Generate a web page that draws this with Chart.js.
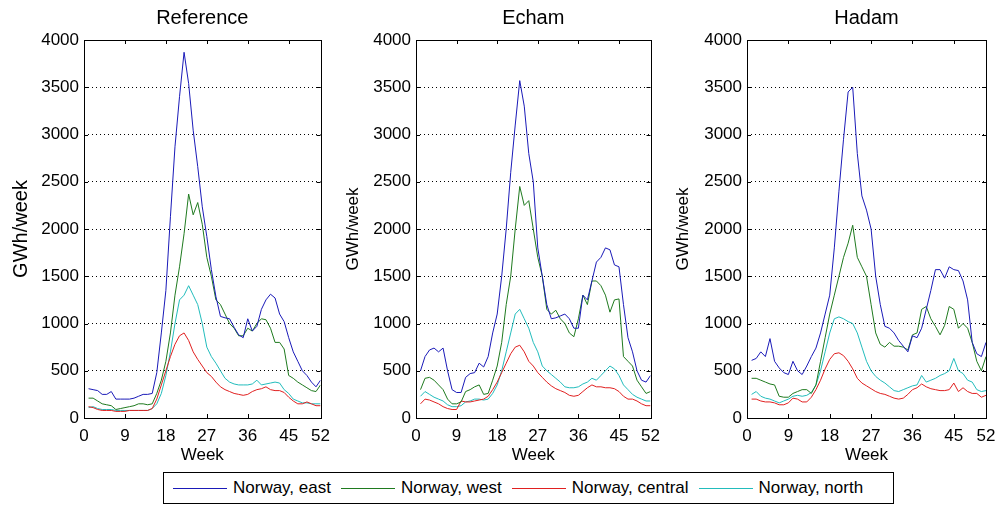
<!DOCTYPE html>
<html>
<head>
<meta charset="utf-8">
<script src="https://cdn.jsdelivr.net/npm/chart.js@4/dist/chart.umd.min.js"></script>
<style>
  body { margin: 0; background: #fff; font-family: 'Liberation Sans', Arial, sans-serif; }
  #wrap { position: relative; width: 997px; height: 506px; overflow: hidden; }
  .panel { position: absolute; top: 0; height: 468px; }
  #legend {
    position: absolute; left: 163px; top: 472px; width: 729px; height: 30px;
    border: 1px solid #000; display: flex; align-items: flex-start; font-size: 17px; color: #000;
  }
  .item { display: flex; align-items: flex-start; margin-left: 10px; margin-top: 5px; height: 20px; line-height: 20px; }
  .item:first-child { margin-left: 9px; }
  .sw { display: block; width: 54px; height: 1px; margin-top: 10px; margin-right: 6px; }
</style>
</head>
<body>
<div id="wrap">
  <div class="panel" style="left:0;width:330px"><canvas id="c1"></canvas></div>
  <div class="panel" style="left:330px;width:330px"><canvas id="c2"></canvas></div>
  <div class="panel" style="left:660px;width:337px"><canvas id="c3"></canvas></div>
  <div id="legend"></div>
</div>
<script>
const weeks = Array.from({ length: 52 }, (_, i) => i + 1);
const xTicks = [0, 9, 18, 27, 36, 45, 52];
const seriesNames = ['Norway, east', 'Norway, west', 'Norway, central', 'Norway, north'];
const seriesColors = ['#1a1ab8', '#1f7a1f', '#e02020', '#22bcbc'];

// Reference
const refEast = [310, 300, 290, 250, 250, 280, 200, 200, 200, 200, 210, 230, 250, 250, 260, 480, 900, 1350, 2130, 2870, 3400, 3870, 3540, 3045, 2660, 2235, 1920, 1570, 1285, 1075, 1060, 1050, 960, 880, 850, 1050, 920, 970, 1150, 1250, 1310, 1270, 1100, 1020, 850, 700, 600, 500, 450, 380, 330, 400];
const refWest = [210, 210, 180, 150, 140, 130, 90, 100, 110, 120, 130, 150, 150, 140, 150, 260, 400, 600, 900, 1300, 1600, 1950, 2370, 2150, 2280, 2050, 1700, 1500, 1250, 1200, 1100, 1000, 950, 870, 870, 950, 920, 1000, 1050, 1040, 950, 800, 800, 730, 450, 420, 380, 350, 320, 290, 280, 350];
const refCentral = [120, 110, 90, 80, 80, 80, 70, 70, 70, 80, 80, 80, 80, 80, 100, 200, 350, 500, 650, 780, 870, 900, 820, 700, 620, 550, 480, 440, 380, 330, 300, 280, 260, 250, 240, 250, 280, 300, 310, 330, 300, 290, 290, 270, 220, 180, 150, 150, 170, 150, 130, 130];
const refNorth = [110, 120, 100, 90, 90, 90, 80, 80, 80, 80, 80, 80, 80, 80, 100, 150, 260, 450, 700, 1000, 1250, 1300, 1400, 1300, 1200, 1000, 750, 650, 580, 500, 420, 380, 360, 350, 350, 350, 360, 400, 350, 360, 370, 380, 370, 300, 260, 200, 180, 160, 160, 150, 150, 150];

// Echam
const echEast = [500, 650, 720, 740, 700, 740, 500, 300, 270, 270, 430, 470, 480, 580, 540, 650, 900, 1100, 1500, 2000, 2600, 3100, 3570, 3300, 2800, 2500, 1800, 1500, 1200, 1050, 1060, 1080, 1100, 1050, 950, 950, 1300, 1250, 1450, 1650, 1700, 1800, 1780, 1620, 1600, 1200, 850, 700, 500, 400, 380, 450];
const echWest = [300, 420, 430, 400, 350, 300, 200, 150, 150, 170, 280, 300, 330, 350, 250, 260, 400, 550, 800, 1200, 1500, 2000, 2450, 2250, 2300, 2000, 1700, 1500, 1150, 1100, 1140, 1050, 1000, 900, 860, 1050, 1300, 1200, 1450, 1450, 1400, 1300, 1120, 1250, 1260, 650, 600, 550, 400, 330, 260, 280];
const echCentral = [150, 200, 190, 170, 150, 120, 100, 90, 90, 180, 170, 170, 180, 190, 200, 230, 300, 380, 480, 580, 680, 750, 770, 700, 600, 550, 480, 430, 380, 340, 310, 290, 270, 240, 230, 240, 280, 320, 350, 330, 330, 320, 320, 310, 280, 230, 200, 200, 180, 150, 130, 130];
const echNorth = [230, 280, 250, 220, 200, 180, 140, 120, 120, 130, 170, 180, 200, 200, 190, 200, 260, 350, 500, 700, 900, 1100, 1150, 1050, 950, 800, 700, 550, 500, 460, 420, 380, 330, 320, 320, 330, 360, 380, 420, 400, 450, 500, 550, 520, 450, 350, 300, 250, 220, 200, 180, 180];

// Hadam
const hadEast = [610, 630, 700, 650, 840, 600, 530, 480, 460, 600, 500, 460, 550, 650, 740, 900, 1100, 1300, 1800, 2400, 2950, 3450, 3500, 2800, 2350, 2200, 2000, 1500, 1200, 970, 950, 900, 820, 760, 700, 870, 850, 950, 1150, 1350, 1570, 1570, 1480, 1600, 1570, 1560, 1450, 1250, 800, 680, 650, 800];
const hadWest = [420, 420, 400, 380, 360, 350, 230, 220, 220, 260, 280, 300, 300, 260, 350, 600, 850, 1100, 1300, 1500, 1700, 1850, 2040, 1700, 1600, 1500, 1200, 900, 780, 750, 800, 760, 760, 750, 720, 880, 900, 1150, 1180, 1050, 970, 880, 980, 1180, 1150, 950, 1000, 950, 800, 600, 500, 650];
const hadCentral = [200, 200, 180, 170, 170, 160, 140, 140, 160, 210, 200, 170, 170, 220, 300, 400, 520, 620, 680, 690, 660, 600, 520, 420, 370, 340, 310, 280, 260, 250, 230, 210, 200, 210, 250, 300, 320, 360, 330, 310, 300, 290, 290, 300, 370, 280, 320, 280, 260, 260, 220, 240];
const hadNorth = [250, 280, 230, 210, 200, 180, 160, 180, 200, 230, 240, 230, 240, 270, 350, 500, 700, 900, 1050, 1070, 1050, 1020, 1000, 900, 750, 600, 500, 440, 400, 370, 330, 290, 280, 300, 320, 340, 350, 450, 380, 400, 420, 450, 470, 500, 630, 500, 470, 400, 380, 300, 280, 290];

const FONT = "'Liberation Sans', Arial, sans-serif";

// MATLAB-like box with inward tick marks
const boxPlugin = {
  id: 'box',
  afterDatasetsDraw(chart) {
    const { ctx, chartArea: a, scales } = chart;
    ctx.save();
    ctx.strokeStyle = '#000';
    ctx.lineWidth = 1;
    ctx.strokeRect(Math.round(a.left) + 0.5, Math.round(a.top) + 0.5, Math.round(a.right - a.left), Math.round(a.bottom - a.top));
    ctx.beginPath();
    const t = 4;
    xTicks.forEach(v => {
      const x = Math.round(scales.x.getPixelForValue(v)) + 0.5;
      ctx.moveTo(x, a.bottom); ctx.lineTo(x, a.bottom - t);
      ctx.moveTo(x, a.top); ctx.lineTo(x, a.top + t);
    });
    scales.y.ticks.forEach(tk => {
      const y = Math.round(scales.y.getPixelForValue(tk.value)) + 0.5;
      ctx.moveTo(a.left, y); ctx.lineTo(a.left + t, y);
      ctx.moveTo(a.right, y); ctx.lineTo(a.right - t, y);
    });
    ctx.stroke();
    ctx.restore();
  }
};

function makePanel(id, title, series, left, right, width, ylabelSize, ylabelPad) {
  const canvas = document.getElementById(id);
  canvas.width = width;
  canvas.height = 468;
  new Chart(canvas, {
    type: 'line',
    data: {
      datasets: series.map((vals, i) => ({
        label: seriesNames[i],
        data: weeks.map((w, j) => ({ x: w, y: vals[j] })),
        borderColor: seriesColors[i],
        borderWidth: 1,
        pointRadius: 0,
        tension: 0,
      })),
    },
    options: {
      responsive: false,
      animation: false,
      layout: { padding: { left: 0, right: width - right, top: 0, bottom: 0 } },
      plugins: {
        legend: { display: false },
        tooltip: { enabled: false },
        title: {
          display: true,
          fullSize: false,
          text: title,
          color: '#000',
          font: { family: FONT, size: 20, weight: 'normal' },
          padding: { top: 6, bottom: 10 },
        },
      },
      scales: {
        x: {
          type: 'linear',
          min: 0,
          max: 52,
          afterBuildTicks: s => { s.ticks = xTicks.map(v => ({ value: v })); },
          afterFit: s => { s.height = 50; },
          grid: { display: false },
          border: { display: false },
          ticks: { color: '#000', font: { family: FONT, size: 17 }, padding: 0, maxRotation: 0, autoSkip: false },
          title: { display: true, text: 'Week', color: '#000', font: { family: FONT, size: 17 }, padding: { top: 0, bottom: 2 } },
        },
        y: {
          min: 0,
          max: 4000,
          afterFit: s => { s.width = left; },
          grid: {
            drawTicks: false,
            color: c => (c.tick.value > 0 && c.tick.value < 4000) ? '#000' : 'rgba(0,0,0,0)',
            lineWidth: 1,
          },
          border: { display: false, dash: [1, 3] },
          ticks: { stepSize: 500, color: '#000', font: { family: FONT, size: 17 }, padding: 5, callback: v => String(v) },
          title: { display: true, text: 'GWh/week', color: '#000', font: { family: FONT, size: ylabelSize }, padding: { top: ylabelPad, bottom: 0 } },
        },
      },
    },
    plugins: [boxPlugin],
  });
}

makePanel('c1', 'Reference', [refEast, refWest, refCentral, refNorth], 84, 324, 330, 20, 9);
makePanel('c2', 'Echam', [echEast, echWest, echCentral, echNorth], 86, 324, 330, 17, 13);
makePanel('c3', 'Hadam', [hadEast, hadWest, hadCentral, hadNorth], 87, 326, 337, 17, 13);

const legend = document.getElementById('legend');
seriesNames.forEach((name, i) => {
  const item = document.createElement('div');
  item.className = 'item';
  const sw = document.createElement('span');
  sw.className = 'sw';
  sw.style.backgroundColor = seriesColors[i];
  const label = document.createElement('span');
  label.textContent = name;
  item.appendChild(sw);
  item.appendChild(label);
  legend.appendChild(item);
});
</script>
</body>
</html>
